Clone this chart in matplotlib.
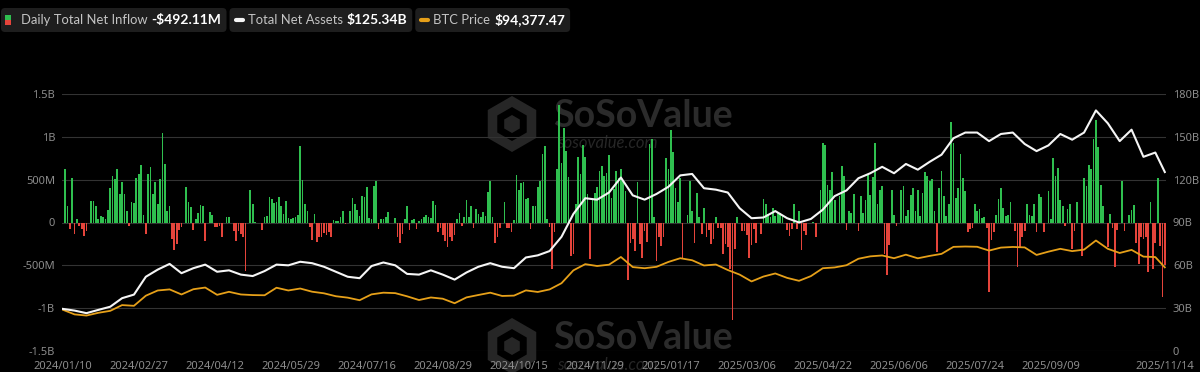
import matplotlib
matplotlib.use("Agg")
import matplotlib.pyplot as plt
from matplotlib.patches import FancyBboxPatch, RegularPolygon, Rectangle
import numpy as np

plt.rcParams["font.family"] = ["Noto Sans", "DejaVu Sans"]

# daily total net inflow ($M), one value per trading day, 2024/01/10 .. 2024/12/31
inflow_2024 = [0,
    625, 190, -80, 515, -135, 40, -40, -80, -155, -100,
    0, 255, 250, 195, 40, 80, 65, 40, 145, 400,
    540, 505, 625, 330, 475, 330, 135, -40, 245, 225,
    520, 565, 670, 90, -135, 565, 645, 330, 475, 215,
    505, 1040, 680, 130, 195, -195, -325, -255, -90, -50,
    0, 410, 240, 185, -85, 40, 115, 205, 195, -220,
    0, 125, 90, -50, -50, -40, -170, 0, 60, 60,
    0, -100, -215, -100, -130, -175, -565,
    0, 380, 215, 10, -10, 0, -85, 60, 80, 300,
    275, 225, 235, 300, 195, 100, 255, 47, 40, 47,
    66, 90, 890, 495, 215, 130, -50, -200, 100, -225,
    -175, -165, -125, -145, -115, -175, 27, 20, 20, 70,
    130, -12, 0, 135, 290, 215, 150, 80, 310, 300,
    420, 50, 43, 425, 485, -80, 40, 43, 66, 125,
    -10, 0, 50, -175, -235, -135, 40, 190, -90, 35,
    40, -80, 20, 40, 60, 90, 60,
    47, 255, 205, -115, -60, -150, -215, -285, -175, -215,
    -145, 40, 115, -40, 60, 260, 60, 190, -60, 160,
    100, 60, 125, 80, 360, 490, 60, -235, -175, -60,
    0, 235, -60, -60, -110, 35, 560, 380, 465, 470,
    275, 290, -80, 190, 195, 410, 480, 800, 890, 40,
    -55, -540, -115, 620, 1375, 690, 1100, 840, 535, -390,
    -370, 220, 760, 565, 900, 760, 330, -430, 285, 350,
    410, 600, 665, 545, 575, 790, 290, 390,
    600, 520, 630, 490, 370, -675, -235, -195, -330, 475,
    -255, -410, -100]

# 2025/01/02 .. 2025/11/14
inflow_2025 = [
    -225, 915, 980, 60, -455, -175, -275,
    -175, 750, 630, 1080, 820, 400, 235, 520, -430, 0,
    85, 490, 135, -235, 340, 66, -130, 175, -175, -90,
    -255, -195, 60, -60, -65, -365, -255, -290, -545, -1140,
    -310, 70, 0, -100, -100, -145, -410, -260, -80, -235,
    0, -135, 275, 215, 100, 60, 165, 80, 115, 115,
    80, 0, -90, -155, -80, 215, -80, 135,
    -325, -100, -145, 0, 0, 10, -170, 0, 380, 930,
    910, 440, 380, 585, 260, 0, 310, 665, 545, -90,
    130, 110, 330, 0, -100, 310, 115, 260, 560, 325,
    535, 930, 220, 380, 430, -365, -615, -260, 380, 90,
    -40, 0, 380, 430, 80, 150, 320, 400, 130, 380,
    80, 350, 585, 545, 490, 505, 135, -340, 400, 600,
    315, 80, 215, 1170, 930, 290, 400, 800, 520, 365,
    -110, -80, -60, 215, 130, 155, 50,
    60, -70, -810, -200, -115, 90, 280, 400, 175, 80,
    90, 235, 0, -100, -520, -290, -175, -100, 215, 85,
    80, 215, -115, 330, 300, -115, 0, 370, 40, 750,
    545, 635, 260, 195, -40, 155, 215, -310, -100, 240,
    0, -390, 520, 430, 675, 630, 980, 1195, 880, 440,
    195, 0, -290, 100, -60, -525, -90, 0, 480, -100,
    0, 90, 145, 205, -235, -480, -175, -195, -175, -575,
    235, -545, -235, 520, -278, -867, -492.11]

# total net assets ($B), every 5th trading day + last day
net_assets_b = [
    29.5, 28.3, 26.5, 28.8, 31, 37, 39.5, 52, 57, 61,
    54.5, 58, 60.5, 55.5, 56.5, 53.5, 52.5, 56, 60.5, 60,
    62.5, 61.5, 59, 55.5, 52, 51, 59.5, 62, 60, 54,
    53.5, 56.5, 53.5, 50, 55, 59, 61.5, 59, 58, 65.5,
    67, 70, 80, 96, 107, 106, 111, 121.5, 109, 106,
    110, 115, 123, 124, 114, 113, 111, 100, 93, 93.5,
    98, 93, 90, 92.5, 99, 108.5, 112.5, 121, 124.5, 129,
    124.5, 131, 127, 132.5, 137.5, 149, 153, 153, 147, 152,
    153, 145, 140, 144, 152, 148, 153, 168.5, 159.5, 147,
    155, 136, 139, 125.34]

# BTC price ($K), same days
btc_price_k = [
    46.6, 41.3, 40.0, 43.1, 45.3, 51.8, 51.0, 62.4, 68.3, 69.5,
    63.8, 69.7, 71.6, 63.4, 66.8, 63.8, 63.1, 62.9, 71.4, 68.3,
    70.5, 66.9, 65.1, 61.8, 60.2, 57.3, 63.9, 65.8, 65.3, 61.7,
    57.5, 60.4, 59.0, 53.9, 60.5, 63.2, 65.8, 62.1, 62.5, 68.4,
    66.6, 69.5, 76.5, 91.0, 98.0, 95.9, 97.4, 106.1, 94.7, 93.4,
    95.0, 100.5, 104.7, 102.4, 96.5, 97.6, 91.4, 86.2, 78.5, 84.0,
    87.5, 82.5, 79.2, 84.5, 93.4, 94.3, 96.8, 104.1, 106.8, 107.8,
    104.7, 108.7, 104.6, 107.3, 109.6, 117.5, 117.9, 117.6, 113.3, 116.7,
    117.4, 116.9, 108.4, 112.1, 115.3, 112.7, 114.4, 124.7, 115.3, 110.6,
    114.1, 106.5, 106.0, 94.38]

tick_labels = ["2024/01/10", "2024/02/27", "2024/04/12", "2024/05/29", "2024/07/16",
               "2024/08/29", "2024/10/15", "2024/11/29", "2025/01/17", "2025/03/06",
               "2025/04/22", "2025/06/06", "2025/07/24", "2025/09/09", "2025/11/14"]

flows = np.array(inflow_2024 + inflow_2025) / 1000.0
n = len(flows)
days = np.arange(n)
sample_days = list(range(0, n - 1, 5)) + [n - 1]
tick_days = list(range(0, 32 * 14, 32)) + [n - 1]

GRID = "#333333"
TXT = "#8c8c8c"
GREEN = "#2fbf4f"
RED = "#e5443b"
ORANGE = "#e6a019"

fig = plt.figure(figsize=(12, 3.72), dpi=100, facecolor="black")

# pixel canvas behind everything: watermark + legend
bg = fig.add_axes([0, 0, 1, 1], zorder=-1)
bg.set_xlim(0, 1200)
bg.set_ylim(372, 0)
bg.axis("off")


def watermark(cy):
    bg.add_patch(RegularPolygon((512, cy), 6, radius=28, fc="#262626", ec="none"))
    bg.add_patch(RegularPolygon((512, cy), 6, radius=17, fc="black", ec="none"))
    bg.add_patch(RegularPolygon((512, cy), 6, radius=9, fc="#262626", ec="none"))
    bg.text(553, cy - 8, "SoSoValue", fontsize=27, fontweight="bold", color="#2b2b2b",
            va="center", family="Lato")
    bg.text(557, cy + 19, "sosovalue.com", fontsize=12, style="italic", color="#262626",
            va="center", family="Lato")


watermark(124)
watermark(346)

ax = fig.add_axes([62 / 1200, 21 / 372, 1104 / 1200, 257 / 372])
ax.set_facecolor("none")
ax.bar(days, flows, width=0.72, color=np.where(flows >= 0, GREEN, RED), zorder=2)
ax.set_xlim(-0.3, n - 0.5)
ax.set_ylim(-1.5, 1.5)
ax.set_yticks([-1.5, -1, -0.5, 0, 0.5, 1, 1.5],
              ["-1.5B", "-1B", "-500M", "0", "500M", "1B", "1.5B"])
ax.set_xticks(tick_days, tick_labels)
ax.grid(axis="y", color=GRID, lw=0.8)
ax.set_axisbelow(True)
ax.tick_params(axis="both", colors=TXT, labelsize=8, length=0)
ax.tick_params(axis="y", pad=5)
ax.tick_params(axis="x", pad=7)

ax3 = ax.twinx()
ax3.plot(sample_days, btc_price_k, color=ORANGE, lw=1.3)
ax3.set_ylim(0, 290)
ax3.set_yticks([])

ax2 = ax.twinx()
ax2.plot(sample_days, net_assets_b, color="#f5f5f5", lw=1.5)
ax2.set_ylim(0, 180)
ax2.set_yticks(range(0, 181, 30), ["0"] + [f"{v}B" for v in range(30, 181, 30)])
ax2.tick_params(axis="y", colors=TXT, labelsize=8, length=0, pad=5)

for a in (ax, ax2, ax3):
    for s in a.spines.values():
        s.set_visible(False)

# legend chips
r = fig.canvas.get_renderer()
items = [("Daily Total Net Inflow", "-$492.11M", "bar"),
         ("Total Net Assets", "$125.34B", "#f5f5f5"),
         ("BTC Price", "$94,377.47", ORANGE)]
x = 1
ty = 20
for label, value, icon in items:
    if icon == "bar":
        bg.add_patch(Rectangle((x + 4, 15), 6, 5, fc=GREEN, ec="none"))
        bg.add_patch(Rectangle((x + 4, 20), 6, 5, fc=RED, ec="none"))
        lx = x + 20
    else:
        bg.plot([x + 6, x + 13], [ty, ty], color=icon, lw=3, solid_capstyle="round")
        lx = x + 18
    t1 = bg.text(lx, ty, label, fontsize=9.4, color="#c4c4c4", va="center", family="Lato")
    x1 = t1.get_window_extent(r).x1
    t2 = bg.text(x1 + 4, ty, value, fontsize=10, fontweight="bold", color="white",
                 va="center", family="Lato")
    x2 = t2.get_window_extent(r).x1
    bg.add_patch(FancyBboxPatch((x, 8), x2 + 5 - x, 24, boxstyle="round,pad=0,rounding_size=4",
                                fc="#1e1e1e", ec="none", zorder=0))
    x = x2 + 8

fig.savefig("out.png", dpi=100, facecolor="black")
